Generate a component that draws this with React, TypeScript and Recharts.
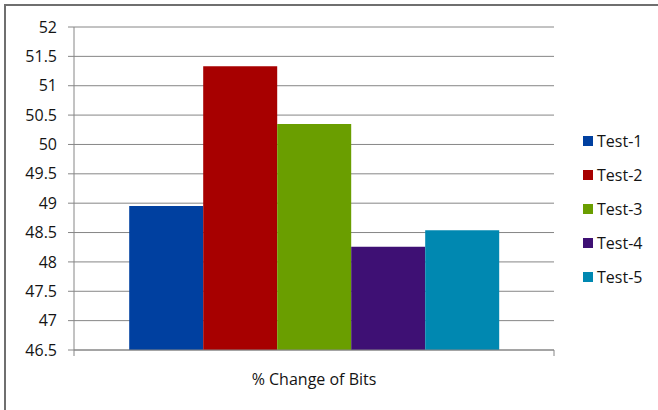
import { BarChart, Bar, XAxis, YAxis, CartesianGrid, Legend } from "recharts"

const CATEGORIES = ["% Change of Bits"]
const SERIES_NAMES = ["Test-1", "Test-2", "Test-3", "Test-4", "Test-5"]
const SERIES_VALUES = [48.95, 51.33, 50.35, 48.26, 48.54]
const SERIES_COLORS = ["#0040a0", "#a70000", "#6a9e00", "#3e1074", "#0088b1"]
const Y_TICKS = [46.5, 47, 47.5, 48, 48.5, 49, 49.5, 50, 50.5, 51, 51.5, 52]

const AXIS_COLOR = "#868686"
const TEXT_COLOR = "#141414"
const FONT = "'Open Sans', 'DejaVu Sans', sans-serif"
const FONT_SIZE = 16

const chartData = CATEGORIES.map((name, i) => {
  const row: Record<string, string | number> = { name }
  SERIES_NAMES.forEach((_, s) => {
    row[`s${s}`] = i === 0 ? SERIES_VALUES[s] : 0
  })
  return row
})

// category label plus tick marks on the band edges (Excel style)
function CategoryTick(props: any) {
  const { x, y, payload } = props
  const half = Number.isFinite(payload?.offset) ? payload.offset : 0
  return (
    <g>
      <line x1={x - half} x2={x - half} y1={y} y2={y + 6} stroke={AXIS_COLOR} />
      <line x1={x + half} x2={x + half} y1={y} y2={y + 6} stroke={AXIS_COLOR} />
      <text x={x} y={y + 35} textAnchor="middle" fill={TEXT_COLOR} fontSize={FONT_SIZE} fontFamily={FONT}>
        {payload.value}
      </text>
    </g>
  )
}

function LegendList(props: any) {
  const items = props.payload ?? []
  return (
    <div style={{ fontFamily: FONT, fontSize: FONT_SIZE, color: TEXT_COLOR }}>
      {items.map((item: any) => (
        <div key={item.value} style={{ height: 34, display: "flex", alignItems: "center" }}>
          <span style={{ width: 10, height: 10, background: item.color, marginRight: 4, display: "inline-block" }} />
          <span>{item.value}</span>
        </div>
      ))}
    </div>
  )
}

export default function App() {
  return (
    <div style={{ position: "absolute", left: 0, top: 0, width: 658, height: 410, background: "#fff", overflow: "hidden" }}>
      <div
        style={{
          position: "absolute",
          left: 4,
          top: 4,
          width: 700,
          height: 500,
          borderLeft: "2px solid #6f6f6f",
          borderTop: "2px solid #6f6f6f",
        }}
      />
      <BarChart
        width={658}
        height={410}
        data={chartData}
        margin={{ top: 27, right: 29, left: 0, bottom: 0 }}
        barGap={0}
        barCategoryGap="11.5%"
      >
        <CartesianGrid vertical={false} stroke={AXIS_COLOR} />
        <XAxis
          dataKey="name"
          height={60}
          axisLine={{ stroke: AXIS_COLOR }}
          tickLine={false}
          tickSize={0}
          tickMargin={0}
          tick={<CategoryTick />}
        />
        <YAxis
          width={74}
          domain={[46.5, 52]}
          ticks={Y_TICKS}
          interval={0}
          axisLine={{ stroke: AXIS_COLOR }}
          tickLine={{ stroke: AXIS_COLOR }}
          tickSize={6}
          tickMargin={11}
          tick={{ fill: TEXT_COLOR, fontSize: FONT_SIZE, fontFamily: FONT }}
        />
        <Legend
          layout="vertical"
          align="right"
          verticalAlign="middle"
          content={<LegendList />}
          wrapperStyle={{ left: 583, top: 124, width: 75 }}
        />
        {SERIES_NAMES.map((name, s) => (
          <Bar key={name} dataKey={`s${s}`} name={name} fill={SERIES_COLORS[s]} isAnimationActive={false} />
        ))}
      </BarChart>
    </div>
  )
}
